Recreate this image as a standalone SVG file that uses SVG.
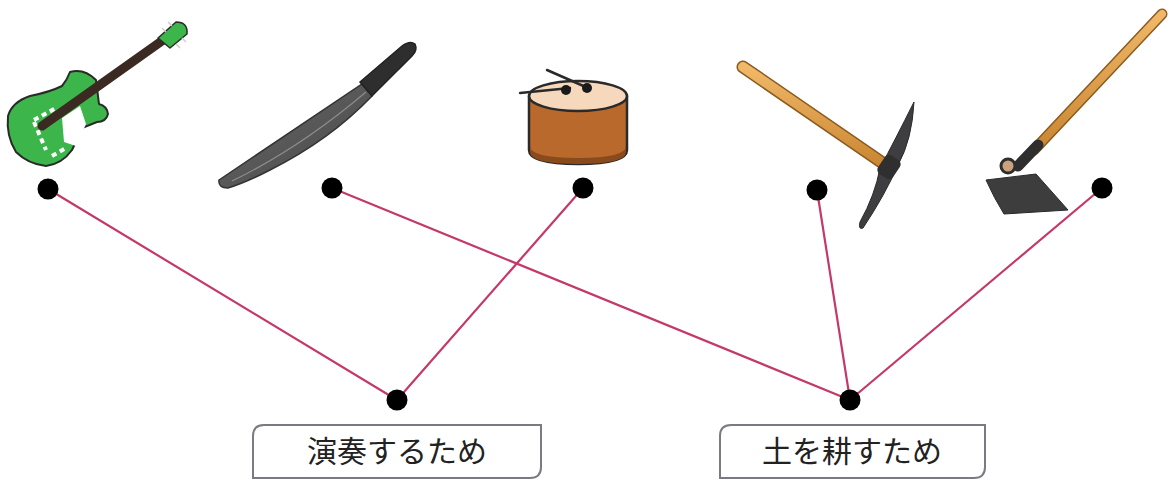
<svg xmlns="http://www.w3.org/2000/svg" width="1168" height="483" viewBox="0 0 1168 483">
  <style>
    .link { stroke: #c4386a; stroke-width: 2.2; fill: none; stroke-linecap: round; }
    .dot { fill: #000; }
    .label-box { fill: #fff; stroke: #7a7a80; stroke-width: 2; }
    .label { font-family: "Noto Sans CJK JP", "Noto Sans", sans-serif; font-size: 30px; fill: #222; text-anchor: middle; }
    .ink { stroke: #2a2a2a; stroke-linejoin: round; stroke-linecap: round; }
  </style>
  <defs>
    <linearGradient id="wood" x1="0" y1="0" x2="0" y2="1">
      <stop offset="0" stop-color="#f0b868"/>
      <stop offset="1" stop-color="#c98530"/>
    </linearGradient>
    <linearGradient id="steel" x1="0" y1="0" x2="1" y2="1">
      <stop offset="0" stop-color="#6a6a6a"/>
      <stop offset="1" stop-color="#464646"/>
    </linearGradient>
  </defs>
  <rect width="1168" height="483" fill="#fff"/>

  <!-- guitar -->
  <g id="guitar">
    <path class="ink" stroke-width="2" fill="#3cb54a" d="M70 72 Q84 68 96 80 L99 104 Q107 106 108 114 Q106 122 97 122 L82 128 Q76 142 72 150 Q62 164 46 166 Q28 164 16 152 Q6 136 8 116 Q12 102 30 96 Q50 92 62 86 Q67 80 70 72 Z"/>
    <path fill="#ffffff" d="M62 118 L80 106 L86 124 L76 146 L64 142 Z"/>
    <path fill="none" stroke="#ffffff" stroke-width="4" stroke-dasharray="5 4" d="M34 120 L56 108 M34 122 L46 150 M52 156 L66 148"/>
    <line x1="42" y1="126" x2="166" y2="38" stroke="#3a2a22" stroke-width="9" stroke-linecap="round"/>
    <path class="ink" stroke-width="1.5" fill="#3cb54a" d="M158 38 L176 22 Q188 22 187 34 L170 48 Z"/>
    <path fill="none" stroke="#cfcfcf" stroke-width="1.5" d="M162 28 L166 32 M168 22 L172 26 M176 44 L180 48 M182 38 L186 42"/>
  </g>

  <!-- machete -->
  <g id="machete">
    <path fill="url(#steel)" stroke="#333" stroke-width="1.5" d="M219 180 L362 84 L372 96 Q330 140 270 170 Q245 183 228 188 Q218 188 219 180 Z"/>
    <path fill="none" stroke="#8c8c8c" stroke-width="1.2" d="M232 181 Q300 148 366 92"/>
    <path fill="#2e2e2e" stroke="#222" stroke-width="1.5" d="M360 82 L402 46 Q410 40 415 44 Q418 50 412 56 L372 96 Z"/>
  </g>

  <!-- drum -->
  <g id="drum">
    <path class="ink" stroke-width="2.5" fill="#b9692c" d="M529 96 L529 150 Q529 164 578 164 Q627 164 627 150 L627 96 Z"/>
    <path fill="#8a4a1c" d="M530 146 Q530 158 578 158 Q626 158 626 146 L626 152 Q626 164 578 164 Q530 164 530 152 Z"/>
    <ellipse class="ink" stroke-width="2.5" cx="578" cy="96" rx="49" ry="15" fill="#f6d8bc"/>
    <line class="ink" stroke-width="2.5" x1="520" y1="93" x2="570" y2="88"/>
    <line class="ink" stroke-width="2.5" x1="547" y1="70" x2="588" y2="88"/>
    <circle cx="566" cy="90" r="5" fill="#1a1a1a"/>
    <circle cx="587" cy="88" r="5" fill="#1a1a1a"/>
  </g>

  <!-- pickaxe -->
  <g id="pickaxe">
    <line x1="743" y1="67" x2="890" y2="168" stroke="#8a5a20" stroke-width="13" stroke-linecap="round"/>
    <line x1="743" y1="67" x2="890" y2="168" stroke="url(#wood)" stroke-width="10" stroke-linecap="round"/>
    <path fill="#3e3e40" stroke="#2a2a2a" stroke-width="1" d="M914 102 Q912 140 898 165 Q885 195 863 228 Q858 230 860 222 Q875 195 880 168 Q895 140 914 102 Z"/>
    <rect x="880" y="156" width="18" height="22" rx="5" fill="#2f2f30" transform="rotate(34 889 167)"/>
  </g>

  <!-- hoe -->
  <g id="hoe">
    <line x1="1162" y1="14" x2="1034" y2="150" stroke="#8a5a20" stroke-width="11" stroke-linecap="round"/>
    <line x1="1162" y1="14" x2="1034" y2="150" stroke="url(#wood)" stroke-width="8" stroke-linecap="round"/>
    <line x1="1038" y1="145" x2="1018" y2="166" stroke="#2e2e2e" stroke-width="11" stroke-linecap="round"/>
    <circle cx="1008" cy="166" r="7" fill="#caa27c" stroke="#2e2e2e" stroke-width="3"/>
    <path fill="#3d3d3d" stroke="#2a2a2a" stroke-width="1" d="M986 180 L1036 174 Q1052 192 1068 210 L1004 214 Q994 198 986 180 Z"/>
  </g>

  <!-- connectors -->
  <g id="connectors">
    <line class="link" x1="48" y1="189" x2="397" y2="400"/>
    <line class="link" x1="583" y1="188" x2="397" y2="400"/>
    <line class="link" x1="332" y1="188" x2="850" y2="400"/>
    <line class="link" x1="817" y1="190" x2="850" y2="400"/>
    <line class="link" x1="1102" y1="188" x2="850" y2="400"/>
  </g>

  <!-- attachment points -->
  <g id="dots">
    <circle class="dot" cx="48" cy="189" r="10.5"/>
    <circle class="dot" cx="332" cy="188" r="10.5"/>
    <circle class="dot" cx="583" cy="188" r="10.5"/>
    <circle class="dot" cx="817" cy="190" r="10.5"/>
    <circle class="dot" cx="1102" cy="188" r="10.5"/>
    <circle class="dot" cx="397" cy="400" r="10.5"/>
    <circle class="dot" cx="850" cy="400" r="10.5"/>
  </g>

  <!-- answer labels: rounded top-left and bottom-right corners -->
  <g id="label-play">
    <path class="label-box" d="M264 425 L541 425 L541 467 Q541 478 530 478 L253 478 L253 436 Q253 425 264 425 Z"/>
    <text class="label" x="397" y="462">演奏するため</text>
  </g>
  <g id="label-till">
    <path class="label-box" d="M731 425 L985 425 L985 467 Q985 478 974 478 L720 478 L720 436 Q720 425 731 425 Z"/>
    <text class="label" x="852" y="462">土を耕すため</text>
  </g>
</svg>
